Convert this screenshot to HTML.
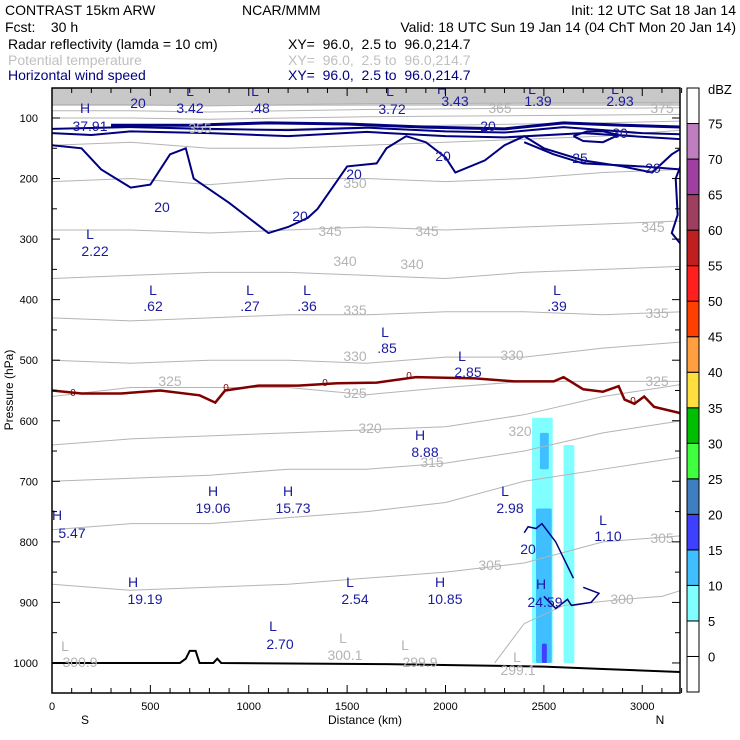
<!DOCTYPE html>
<html><head><meta charset="utf-8">
<style>
body{margin:0;background:#fff;}
svg{display:block;font-family:"Liberation Sans",sans-serif;}
text{white-space:pre;}
</style></head>
<body>
<svg id="chart" width="740" height="740" viewBox="0 0 740 740" xmlns="http://www.w3.org/2000/svg">
<g font-size="14">
<text x="5" y="15" fill="#000">CONTRAST 15km ARW</text>
<text x="242" y="15" fill="#000">NCAR/MMM</text>
<text x="736" y="15" fill="#000" text-anchor="end">Init: 12 UTC Sat 18 Jan 14</text>
<text x="5" y="32" fill="#000">Fcst:    30 h</text>
<text x="736" y="32" fill="#000" text-anchor="end">Valid: 18 UTC Sun 19 Jan 14 (04 ChT Mon 20 Jan 14)</text>
<text x="8" y="49" fill="#000">Radar reflectivity (lamda = 10 cm)</text>
<text x="288" y="49" fill="#000">XY=  96.0,  2.5 to  96.0,214.7</text>
<text x="8" y="65" fill="#c0c0c0">Potential temperature</text>
<text x="288" y="65" fill="#c0c0c0">XY=  96.0,  2.5 to  96.0,214.7</text>
<text x="8" y="80" fill="#000080">Horizontal wind speed</text>
<text x="288" y="80" fill="#000080">XY=  96.0,  2.5 to  96.0,214.7</text>
</g>
<g id="plot"></g>
<g id="cbar"></g>
</svg>
<script>
// ---- data ----
const thetaDist = [0,400,800,1200,1600,2000,2400,2800,3200];
const thetaLevels = [305,310,315,320,325,330,335,340,345,350,355,360,365,370,375];
const th305=[870,880,875,870,860,850,835,800,790];
const th310=[780,770,770,760,750,735,700,680,660];
const th315=[700,695,690,680,680,670,650,620,600];
const th320=[640,630,625,620,615,610,590,560,540];
const th325=[560,545,545,545,557,545,535,535,535];
const th330=[500,505,500,500,505,495,495,480,470];
const th335=[430,435,430,425,425,420,420,425,420];
const th340=[365,360,355,355,360,365,355,350,345];
const th345=[285,285,290,285,280,285,280,275,270];
const th350=[205,200,210,200,200,205,200,190,185];
const th355=[145,140,150,150,145,140,135,130,120];
const th360=[118,115,120,118,115,112,110,108,105];
const th365=[100,100,102,100,98,97,96,95,94];
const th370=[88,88,90,88,86,85,84,84,83];
const th375=[78,78,80,78,76,76,75,75,74];
const thetaP=[th305,th310,th315,th320,th325,th330,th335,th340,th345,th350,th355,th360,th365,th370,th375];
const th300Dist=[2250,2400,2600,2900,3100,3200];
const th300=[1000,935,905,895,890,880];

const wind20a=[[0,145],[150,150],[250,185],[400,215],[500,210],[600,160],[680,150],[720,200],[900,240],[1100,290],[1200,280],[1300,265],[1350,250],[1500,180],[1650,175],[1700,150],[1800,130],[1900,140],[2000,165],[2050,190],[2200,170],[2300,145],[2400,130],[2500,150],[2700,170],[2900,180],[3050,190],[3150,160],[3200,150]];
const wind20b=[[3200,175],[3170,200],[3180,260],[3150,290],[3200,310]];
const wind20c=[[2400,785],[2420,775],[2460,778],[2490,770],[2560,800],[2620,840],[2650,860]];
const wind20d=[[2500,890],[2560,910],[2620,895],[2640,905],[2740,900],[2780,885],[2740,880],[2700,875]];
const wind25=[[2400,140],[2550,160],[2700,175],[3000,180],[3200,185]];
const wind30=[[2650,130],[2720,122],[2800,122],[2880,128],[2800,140],[2700,138],[2650,130]];
const windTop1=[[300,112],[700,112],[1100,108],[1500,110],[1900,115],[2300,118],[2600,108],[2900,112],[3200,115]];
const windTop2=[[0,118],[400,115],[800,118],[1200,120],[1600,116],[2000,122],[2300,124],[2600,115],[3000,125],[3200,127]];
const windTop3=[[0,125],[200,128],[400,122],[800,125],[1200,130],[1600,123],[2000,130],[2300,132],[2700,125],[3200,135]];
const freezeDist=[0,150,350,550,750,830,880,1050,1250,1450,1650,1850,2150,2350,2550,2600,2700,2800,2880,2910,2960,3010,3060,3200];
const freezeP=[550,555,555,550,558,570,550,542,542,538,537,528,530,535,535,528,548,552,543,565,572,560,577,588];
const terrDist=[0,650,680,700,730,750,820,840,860,1700,2500,2800,3200];
const terrP=[1000,1000,993,980,980,1000,1000,993,1000,1002,1006,1010,1015];

const labelsNavy=[["H",85,113],["37.91",90,131],["20",138,108],["L",190,96],["3.42",190,113],["L",255,96],[".48",260,113],["L",390,96],["3.72",392,114],["H",442,94],["3.43",455,106],["L",532,94],["1.39",538,106],["L",615,94],["2.93",620,106],
["20",488,131],["20",443,161],["20",653,173],["25",580,163],["30",620,138],["20",162,212],["20",300,221],["20",354,179],
["L",90,239],["2.22",95,256],["L",153,295],[".62",153,311],["L",250,295],[".27",250,311],["L",307,295],[".36",307,311],["L",557,295],[".39",557,311],["L",385,337],[".85",387,353],["L",462,361],["2.85",468,377],["H",420,440],["8.88",425,457],["H",213,496],["19.06",213,513],["H",288,496],["15.73",293,513],["L",505,496],["2.98",510,513],["L",603,525],["1.10",608,541],["H",57,520],["5.47",72,538],["H",133,587],["19.19",145,604],["L",350,587],["2.54",355,604],["H",440,587],["10.85",445,604],["H",541,589],["24.59",545,607],["L",273,631],["2.70",280,649],["20",528,554]];
const labelsGray=[["L",65,651],["300.9",80,667],["L",343,643],["300.1",345,660],["L",405,650],["299.9",420,667],["L",517,662],["299.1",518,675],
["325",170,386],["325",355,398],["325",657,386],["330",355,361],["330",512,360],["335",355,315],["335",657,318],["340",345,266],["340",412,269],["345",330,236],["345",427,236],["345",653,232],["350",355,188],["355",200,133],["320",370,433],["320",520,436],["315",432,467],["305",490,570],["305",662,543],["300",622,604],["365",500,113],["375",662,113]];
const freezeLabels=[[73,396],[226,391],[325,386],[409,379],[633,404]];

const xTicks=[0,500,1000,1500,2000,2500,3000];
const yTicks=[100,200,300,400,500,600,700,800,900,1000];
const cbLevels=[0,5,10,15,20,25,30,35,40,45,50,55,60,65,70,75];
const cbColors=["#ffffff","#ffffff","#7fffff","#3fbfff","#3f3fff","#3f7fbf","#3fff3f","#00bf00","#ffdf3f","#ff9f3f","#ff3f00","#ff1f1f","#bf1f1f","#9f3f5f","#9f3f9f","#bf7fbf","#ffffff"];

const radarDist1=[2440,2545];const radarP1=[595,1000];const radarZ1=7;
const radarDist2=[2460,2540];const radarP2=[745,1000];const radarZ2=12;
const radarDist3=[2480,2525];const radarP3=[620,680];const radarZ3=12;
const radarDist4=[2600,2655];const radarP4=[640,1000];const radarZ4=7;
const radarDist5=[2490,2515];const radarP5=[968,1000];const radarZ5=17;

// ---- axes ----
const X0=52,X1=680,Y0=88,Y1=693;
const x=d=>X0+d*0.19675;
const y=p=>118+(p-100)*0.6055;
const NS="http://www.w3.org/2000/svg";
const plot=document.getElementById('plot');
function mk(tag,attrs,parent){const e=document.createElementNS(NS,tag);for(const k in attrs)e.setAttribute(k,attrs[k]);(parent||plot).appendChild(e);return e;}
function colorFor(z){let i=0;while(i<cbLevels.length&&z>=cbLevels[i])i++;return cbColors[i];}

const clip=mk('clipPath',{id:'pc'});mk('rect',{x:X0,y:Y0,width:X1-X0,height:Y1-Y0},clip);
const g=mk('g',{'clip-path':'url(#pc)'});


const band=mk('rect',{x:X0,y:Y0,width:X1-X0,height:y(80)-Y0,fill:'#c8c8c8'},g);



[[radarDist1,radarP1,radarZ1],[radarDist4,radarP4,radarZ4],[radarDist2,radarP2,radarZ2],[radarDist3,radarP3,radarZ3],[radarDist5,radarP5,radarZ5]].forEach((r,i)=>{
 const e=mk('rect',{x:x(r[0][0]),y:y(r[1][0]),width:x(r[0][1])-x(r[0][0]),height:y(r[1][1])-y(r[1][0]),fill:colorFor(r[2]),rx:1.5},g);
 
 
});

thetaP.forEach((arr,i)=>{
 const pts=arr.map((p,j)=>x(thetaDist[j])+','+y(p)).join(' ');
 const e=mk('polyline',{points:pts,fill:'none',stroke:'#b4b4b4','stroke-width':1},g);
 
 
});
{const e=mk('polyline',{points:th300.map((p,j)=>x(th300Dist[j])+','+y(p)).join(' '),fill:'none',stroke:'#b4b4b4'},g);

}

function wline(arr,name,w){const e=mk('polyline',{points:arr.map(q=>x(q[0])+','+y(q[1])).join(' '),fill:'none',stroke:'#000080','stroke-width':w||2},g);
 
 }
wline(wind20a,'wind-contour-20');wline(wind20b,'wind-contour-20-right');wline(wind20c,'wind-contour-20-low',1.5);wline(wind20d,'wind-contour-20-lower',1.5);
wline(wind25,'wind-contour-25');wline(wind30,'wind-contour-30');
wline(windTop1,'wind-contour-top',3);wline(windTop2,'wind-contour-top2',2);wline(windTop3,'wind-contour-top3',2);

{const e=mk('polyline',{points:freezeP.map((p,j)=>x(freezeDist[j])+','+y(p)).join(' '),fill:'none',stroke:'#800000','stroke-width':2.5},g);

}
freezeLabels.forEach(l=>{const t=mk('text',{x:l[0],y:l[1],'font-size':10,fill:'#800000','text-anchor':'middle'},g);t.textContent='0';
 
 });
{const e=mk('polyline',{points:terrP.map((p,j)=>x(terrDist[j])+','+y(p)).join(' '),fill:'none',stroke:'#000','stroke-width':2},g);

}

labelsGray.forEach(l=>{const t=mk('text',{x:l[1],y:l[2],'font-size':14,fill:'#b4b4b4','text-anchor':'middle'},g);t.textContent=l[0];
 
 });
labelsNavy.forEach(l=>{const t=mk('text',{x:l[1],y:l[2],'font-size':14,fill:'#1a1aa0','text-anchor':'middle'},g);t.textContent=l[0];
 
 });

{const e=mk('rect',{x:X0,y:Y0,width:X1-X0,height:Y1-Y0,fill:'none',stroke:'#000','stroke-width':1.5});

}
for(let d=0;d<=3200;d+=100){const L=d%500===0?8:5;
 mk('line',{x1:x(d),x2:x(d),y1:Y1,y2:Y1-L,stroke:'#000'});mk('line',{x1:x(d),x2:x(d),y1:Y0,y2:Y0+L,stroke:'#000'});}
for(let p=100;p<=1000;p+=50){const L=p%100===0?8:5;
 mk('line',{x1:X0,x2:X0+L,y1:y(p),y2:y(p),stroke:'#000'});mk('line',{x1:X1,x2:X1-L,y1:y(p),y2:y(p),stroke:'#000'});}
xTicks.forEach(d=>{const t=mk('text',{x:x(d),y:710,'font-size':11,'text-anchor':'middle'});t.textContent=d;
 
 });
yTicks.forEach(p=>{const t=mk('text',{x:38,y:y(p)+4,'font-size':11,'text-anchor':'end'});t.textContent=p;
 
 });
[['S',85,'x-start-label'],['N',660,'x-end-label'],['Distance (km)',365,'x-axis-title']].forEach(a=>{const t=mk('text',{x:a[1],y:724,'font-size':12,'text-anchor':'middle'});t.textContent=a[0];
 
 });
{const t=mk('text',{x:0,y:0,'font-size':12,'text-anchor':'middle',transform:'translate(13,390) rotate(-90)'});t.textContent='Pressure (hPa)';

}

const cb=document.getElementById('cbar');
const nB=cbColors.length, bh=(692-88)/nB;
cbColors.forEach((c,i)=>{const yy=692-(i+1)*bh;
 const r=mk('rect',{x:687,y:yy,width:12,height:bh,fill:c,stroke:'#000','stroke-width':1},cb);
 
 });
cbLevels.forEach((v,i)=>{const t=mk('text',{x:708,y:692-(i+1)*bh+5,'font-size':13},cb);t.textContent=v;
 
 });
{const t=mk('text',{x:708,y:94,'font-size':13},cb);t.textContent='dBZ';

}
</script>
</body></html>
